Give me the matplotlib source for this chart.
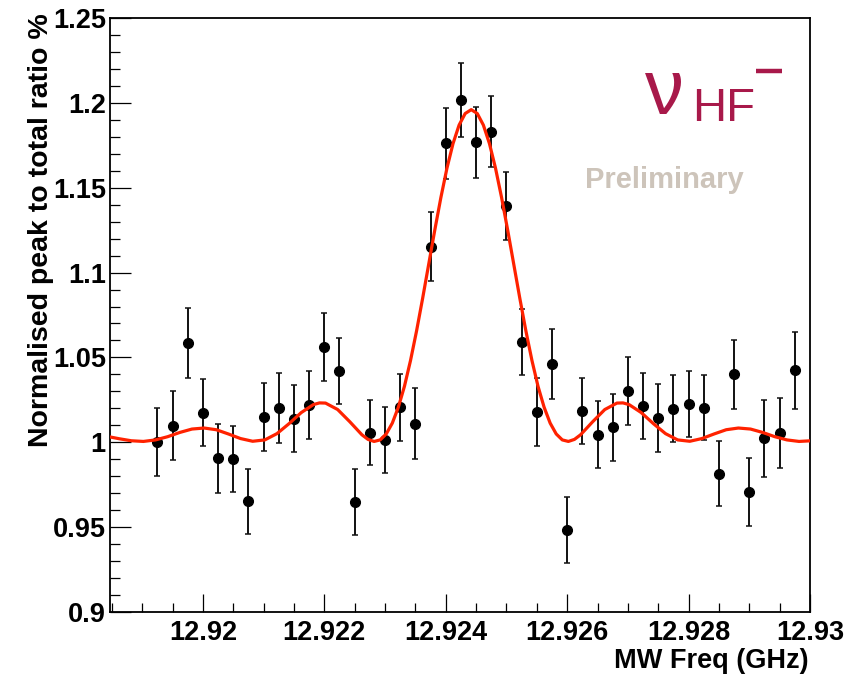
import matplotlib
matplotlib.use("Agg")
import matplotlib.pyplot as plt
from matplotlib.ticker import MultipleLocator, FuncFormatter
from matplotlib.lines import Line2D

# ---- data ----
freq = [12.91925, 12.9195, 12.91975, 12.92, 12.92025, 12.9205, 12.92075, 12.921,
        12.92125, 12.9215, 12.92175, 12.922, 12.92225, 12.9225, 12.92275, 12.923,
        12.92325, 12.9235, 12.92375, 12.924, 12.92425, 12.9245, 12.92475, 12.925,
        12.92525, 12.9255, 12.92575, 12.926, 12.92625, 12.9265, 12.92675, 12.927,
        12.92725, 12.9275, 12.92775, 12.928, 12.92825, 12.9285, 12.92875, 12.929,
        12.92925, 12.9295, 12.92975]
ratio = [1.000, 1.0098, 1.0587, 1.0174, 0.9905, 0.9901, 0.9652, 1.0151,
         1.020, 1.0139, 1.0221, 1.0563, 1.0418, 0.9648, 1.0056, 1.0013,
         1.0206, 1.0109, 1.1151, 1.1761, 1.2017, 1.1767, 1.183, 1.1392,
         1.0589, 1.0178, 1.0463, 0.9483, 1.0184, 1.0045, 1.0088, 1.0302,
         1.0212, 1.0143, 1.0198, 1.0224, 1.0204, 0.9815, 1.040, 0.9707,
         1.0023, 1.0056, 1.0424]
ratio_err = [0.0201, 0.0203, 0.0207, 0.0197, 0.0204, 0.0194, 0.0192, 0.0201,
             0.0206, 0.0198, 0.0201, 0.0201, 0.0195, 0.0195, 0.0191, 0.0194,
             0.0196, 0.0209, 0.0203, 0.0211, 0.0220, 0.0208, 0.0208, 0.0198,
             0.0194, 0.0199, 0.0206, 0.0196, 0.0197, 0.0197, 0.0198, 0.0201,
             0.0194, 0.0198, 0.0197, 0.0195, 0.0192, 0.0190, 0.0201, 0.0198,
             0.0225, 0.0205, 0.0228]

# fitted curve
fit_x = [12.91842, 12.91862, 12.91882, 12.91902, 12.91922, 12.91942, 12.91962,
         12.91982, 12.92002, 12.92022, 12.92042, 12.92062, 12.92082, 12.92102,
         12.92122, 12.92142, 12.92162, 12.92182, 12.92192, 12.92202, 12.92222,
         12.92242, 12.92262, 12.92272, 12.92282, 12.92292, 12.92302, 12.92312,
         12.92322, 12.92332, 12.92342, 12.92352, 12.92362, 12.92372, 12.92382,
         12.92392, 12.92402, 12.92412, 12.92422, 12.92432, 12.92442,
         12.92452, 12.92462, 12.92472, 12.92482, 12.92492, 12.92502, 12.92512,
         12.92522, 12.92532, 12.92542, 12.92552, 12.92562, 12.92572, 12.92582,
         12.92592, 12.92602, 12.92612, 12.92622, 12.92642, 12.92662, 12.92682,
         12.92692, 12.92702, 12.92722, 12.92742, 12.92762, 12.92782, 12.92802,
         12.92822, 12.92842, 12.92862, 12.92882, 12.92902, 12.92922, 12.92942,
         12.92962, 12.92982, 12.93002]
fit_y = [1.0035, 1.0021, 1.0009, 1.0005, 1.0014, 1.0033, 1.0058,
         1.0078, 1.0084, 1.0074, 1.0049, 1.0022, 1.0006, 1.0014,
         1.0051, 1.0110, 1.0175, 1.0222, 1.0232, 1.0231, 1.0193,
         1.0121, 1.0044, 1.0017, 1.0005, 1.0014, 1.0049, 1.0113,
         1.0207, 1.0330, 1.0482, 1.0657, 1.0849, 1.1050, 1.1251,
         1.1442, 1.1615, 1.1760, 1.1869, 1.1937, 1.1960,
         1.1937, 1.1869, 1.1760, 1.1615, 1.1442, 1.1251, 1.1050,
         1.0849, 1.0657, 1.0482, 1.0330, 1.0207, 1.0113, 1.0049,
         1.0014, 1.0005, 1.0017, 1.0044, 1.0121, 1.0193, 1.0231,
         1.0232, 1.0222, 1.0175, 1.0110, 1.0051, 1.0014, 1.0006,
         1.0022, 1.0049, 1.0074, 1.0084, 1.0078, 1.0058, 1.0033,
         1.0014, 1.0005, 1.0009]

x_ticks = [12.92, 12.922, 12.924, 12.926, 12.928, 12.93]
y_ticks = [0.9, 0.95, 1.0, 1.05, 1.1, 1.15, 1.2, 1.25]
x_title = "MW Freq (GHz)"
y_title = "Normalised peak to total ratio %"

# ---- figure ----
W, H = 859, 675
fig = plt.figure(figsize=(W / 100, H / 100), dpi=100)
fig.patch.set_facecolor("white")
L, R, T, B = 110, 810, 18, 612
ax = fig.add_axes([L / W, 1 - B / H, (R - L) / W, (B - T) / H])

font = "Liberation Sans"

ax.errorbar(freq, ratio, yerr=ratio_err, fmt="o", color="black",
            ecolor="#111111", elinewidth=1.4, capsize=2.3, capthick=1.1,
            markersize=7.0, zorder=3)
ax.plot(fit_x, fit_y, color="#ff2200", lw=2.3, zorder=4,
        solid_joinstyle="round", solid_capstyle="round")

ax.set_xlim(12.91847, 12.93)
ax.set_ylim(0.9, 1.25)
ax.set_xticks(x_ticks)
ax.set_yticks(y_ticks)
ax.xaxis.set_minor_locator(MultipleLocator(0.0005))
ax.yaxis.set_minor_locator(MultipleLocator(0.01))
fmt = FuncFormatter(lambda v, p: "%g" % round(v, 6))
ax.xaxis.set_major_formatter(fmt)
ax.yaxis.set_major_formatter(fmt)

ax.tick_params(axis="x", which="major", direction="in", length=13, width=0.9,
               pad=6, top=False)
ax.tick_params(axis="x", which="minor", direction="in", length=6.5, width=0.9,
               top=False)
ax.tick_params(axis="y", which="major", direction="in", length=15, width=0.9,
               pad=3, right=False)
ax.tick_params(axis="y", which="minor", direction="in", length=7.5, width=0.9,
               right=False)
for lab in ax.get_xticklabels() + ax.get_yticklabels():
    lab.set_fontfamily(font)
    lab.set_fontweight("bold")
    lab.set_fontsize(19.5)
for sp in ax.spines.values():
    sp.set_linewidth(1.3)
    sp.set_color("black")

# axis titles (ROOT style, at the end of the axes)
fig.text(809 / W, 1 - 668 / H, x_title, ha="right", va="baseline",
         fontfamily=font, fontweight="bold", fontsize=19.5)
fig.text(41 / W, 1 - 13 / H, y_title, ha="center", va="top", rotation=90,
         fontfamily=font, fontweight="bold", fontsize=20.5)

# logo text
crimson = "#a8194a"
fig.text(645 / W, 1 - 114 / H, "\u03bd", ha="left", va="baseline",
         fontfamily=font, fontsize=56, color=crimson)
fig.text(692 / W, 1 - 121 / H, "HF", ha="left", va="baseline",
         fontfamily=font, fontsize=34, color=crimson)
fig.add_artist(Line2D([756 / W, 782 / W], [1 - 71 / H, 1 - 71 / H],
                      transform=fig.transFigure, color=crimson, lw=3.2,
                      solid_capstyle="butt"))
fig.text(585 / W, 1 - 188 / H, "Preliminary", ha="left", va="baseline",
         fontfamily=font, fontweight="bold", fontsize=21, color="#cdc4ba")

fig.savefig("out.png", dpi=100, facecolor="white")
